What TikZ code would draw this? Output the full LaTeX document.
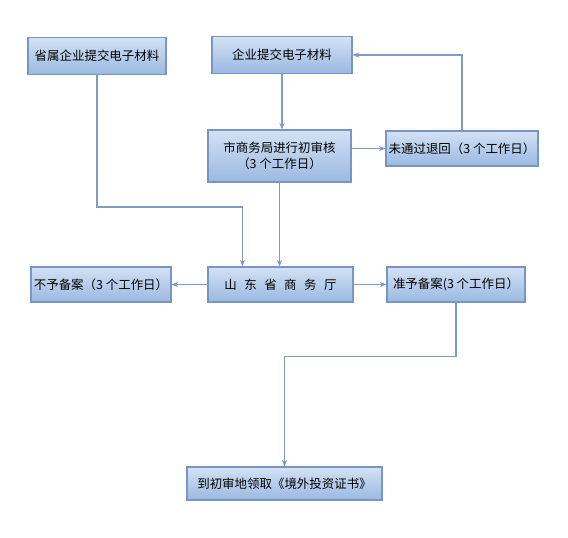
\documentclass[tikz,border=0pt]{standalone}
\usepackage{fontspec}
\setmainfont{Noto Sans CJK SC}
\usetikzlibrary{arrows.meta, positioning}
\definecolor{cedge}{HTML}{7896C2}
\definecolor{ctop}{HTML}{D3E1F4}
\definecolor{cbot}{HTML}{9BB9E1}
\definecolor{cline}{HTML}{7F9BC5}
\tikzset{
  every picture/.style={font=\fontsize{12.5}{15.5}\selectfont, line width=1.1pt},
  box/.style={draw=cedge, top color=ctop, bottom color=cbot, align=center, inner sep=2pt, minimum height=#1},
  box/.default=37bp,
  arrow/.style={-{Stealth[length=2.3mm, width=1.8mm]}, draw=cline, line width=1.3pt},
}

\begin{document}
\begin{tikzpicture}[x=1bp, y=-1bp]
  \useasboundingbox (0,0) rectangle (568,538);
  \node[box, minimum width=138bp] (a) at (97,56) {省属企业提交电子材料};
  \node[box, minimum width=140bp] (b) at (282,55) {企业提交电子材料};
  \node[box=52bp, minimum width=143bp] (c) at (279.5,156) {市商务局进行初审核\\（3 个工作日）};
  \node[box=35bp, minimum width=152bp] (d) at (462,148.5) {未通过退回（3 个工作日）};
  \node[box=35bp, minimum width=145bp] (e) at (280.5,284.5) {山\hspace{0.6em}东\hspace{0.6em}省\hspace{0.6em}商\hspace{0.6em}务\hspace{0.6em}厅};
  \node[box=35bp, minimum width=140bp] (f) at (101,284.5) {不予备案（3 个工作日）};
  \node[box=35bp, minimum width=138bp] (g) at (456,284.5) {准予备案(3 个工作日）};
  \node[box=33bp, minimum width=195bp] (h) at (284.5,483.5) {到初审地领取《境外投资证书》};
  \draw[arrow] (b.south) -- (b.south |- c.north);
  \draw[arrow] (c.south) -- (c.south |- e.north);
  \draw[arrow] (a.south) -- ++(0,132) -| ([xshift=-38bp]e.north);
  \draw[arrow] (d.west -| c.east) -- (d.west);
  \draw[arrow] (d.north) |- (b.east);
  \draw[arrow] (e.west) -- (f.east);
  \draw[arrow] (e.east) -- (g.west);
  \draw[arrow] (g.south) -- ++(0,54) -| (h.north);
\end{tikzpicture}
\end{document}
